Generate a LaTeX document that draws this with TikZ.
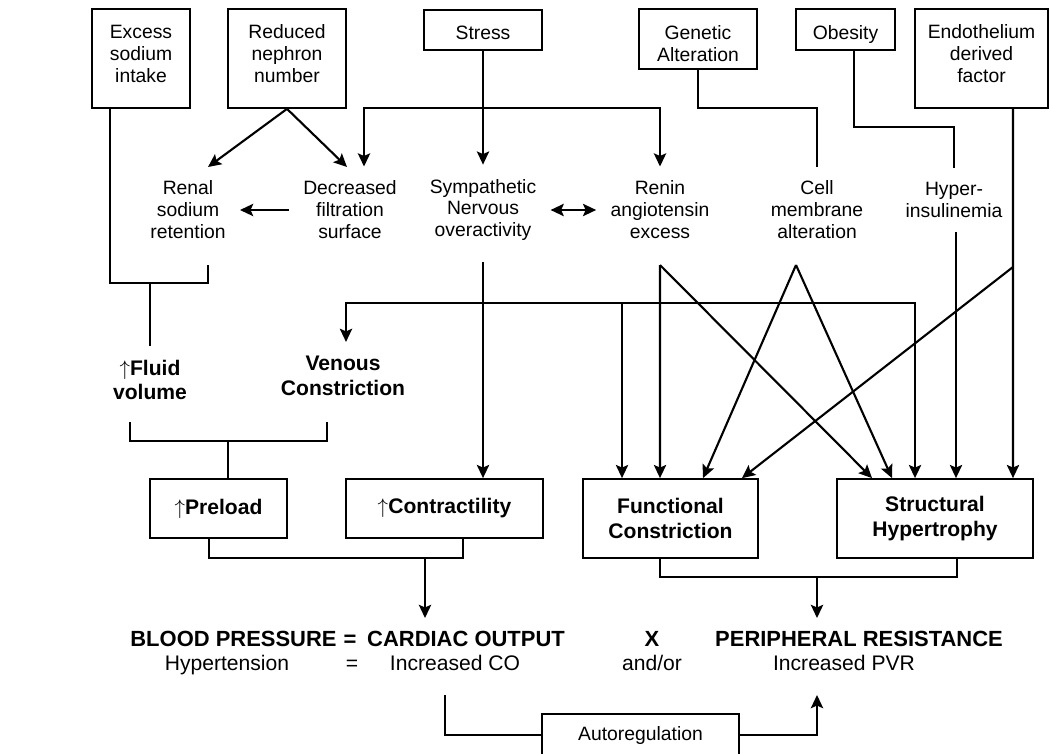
\documentclass[tikz,border=0pt]{standalone}
\usepackage{fontspec}
\setmainfont{Liberation Sans}
\usetikzlibrary{arrows.meta,positioning}

\tikzset{
  box/.style={draw, line width=1pt, align=center, inner sep=0pt, font=\fontsize{11}{12.5}\selectfont},
  bbox/.style={box, font=\fontsize{12}{14}\selectfont\bfseries},
  txt/.style={align=center, inner xsep=8pt, inner ysep=8pt, font=\fontsize{11}{12.5}\selectfont},
  btxt/.style={txt, font=\fontsize{12}{14}\selectfont\bfseries},
  eqn/.style={anchor=base, inner ysep=7pt, font=\fontsize{12.5}{14}\selectfont\bfseries},
  eqr/.style={anchor=base, font=\fontsize{12}{14}\selectfont},
  link/.style={line width=1.2pt},
  bracket/.style={line width=.9pt},
}

\begin{document}
\begin{tikzpicture}[x=0.02cm, y=-0.02cm, >={Stealth[length=7.5pt,width=7pt,inset=1.5pt]}]
\clip (0,0) rectangle (1050,753);

% causes
\node[box, minimum width=1.96cm, minimum height=1.98cm, text depth=5.5pt] (excess) at (141,58.5) {Excess\\sodium\\intake};
\node[box, minimum width=2.36cm, minimum height=1.98cm, text depth=5.5pt] (nephron) at (287,58.5) {Reduced\\nephron\\number};
\node[box, minimum width=2.36cm, minimum height=.8cm, text height=11.3pt] (stress) at (483,30) {Stress};
\node[box, minimum width=2.36cm, minimum height=1.2cm, text height=25.5pt] (genetic) at (698,39) {Genetic\\Alteration};
\node[box, minimum width=1.98cm, minimum height=.82cm, text height=13.6pt] (obesity) at (845.5,29.5) {Obesity};
\node[box, minimum width=2.66cm, minimum height=1.98cm, text depth=5.5pt] (endo) at (981.5,58.5) {Endothelium\\derived\\factor};

% mechanisms
\node[txt] (renal) at (188,210) {Renal\\sodium\\retention};
\node[txt] (decf) at (350,210) {Decreased\\filtration\\surface};
\node[txt] (symp) at (483,210) {Sympathetic\\Nervous\\overactivity};
\node[txt] (renin) at (660,210) {Renin\\angiotensin\\excess};
\node[txt] (cell) at (817,210) {Cell\\membrane\\alteration};
\node[txt] (hyper) at (954,200) {Hyper-\\insulinemia};

\node[btxt] (fluid) at (150,380) {$\uparrow$Fluid\\volume};
\node[btxt] (venous) at (343,376) {Venous\\Constriction};

% effects
\node[bbox, minimum width=2.74cm, minimum height=1.18cm] (preload) at (218.5,508.5) {$\uparrow$Preload};
\node[bbox, minimum width=3.94cm, minimum height=1.18cm] (contr) at (444.5,508.5) {$\uparrow$Contractility};
\node[bbox, minimum width=3.5cm, minimum height=1.58cm] (func) at (670.5,518.5) {Functional\\Constriction};
\node[bbox, minimum width=3.92cm, minimum height=1.58cm] (struc) at (935,518.5) {Structural\\Hypertrophy};

% equation
\node[eqn] (bp) at (233.5,646) {BLOOD PRESSURE};
\node[eqn] (eq1) at (350,646) {=};
\node[eqn] (co) at (466,646) {CARDIAC OUTPUT};
\node[eqn] (times) at (652,646) {X};
\node[eqn] (pr) at (859,646) {PERIPHERAL RESISTANCE};
\node[eqr] (htn) at (227,670) {Hypertension};
\node[eqr] (eq2) at (352,670) {=};
\node[eqr] (incco) at (455,670) {Increased CO};
\node[eqr] (andor) at (652,670) {and/or};
\node[eqr] (incpvr) at (844,670) {Increased PVR};
\node[box, minimum width=3.94cm, minimum height=.84cm] (auto) at (640.5,735) {Autoregulation};

% junctions
\coordinate (exOut) at (110,108);
\coordinate (fluidJ) at (150,283);
\coordinate (renalB) at (208,265);
\coordinate (renalIn) at (208,167);
\coordinate (decfIn) at (347,167);
\coordinate (barL) at (364,108);
\coordinate (barR) at (660,108);
\coordinate (genJ) at (817,108);
\coordinate (obJ) at (954,127);
\coordinate (sympB) at (483,262);
\coordinate (reninB) at (660,265);
\coordinate (cellB) at (796,265);
\coordinate (endoB) at (1013,267);
\coordinate (vL) at (346,303);
\coordinate (fvL) at (130,422);
\coordinate (fvR) at (327,422);
\coordinate (fvM) at (228,441);
\coordinate (pcM) at (425,558);
\coordinate (fsM) at (817,577);
\coordinate (arL) at (445,695);
\coordinate (arR) at (817,695);

% inputs on top of the two boxes
\foreach \n/\dx in {1/-.97, 2/-.21, 3/.65, 4/1.43}
  \coordinate (f\n) at ([xshift=\dx cm]func.north);
\foreach \n/\dx in {1/-1.26, 2/-.86, 3/-.4, 4/.42, 5/1.56}
  \coordinate (s\n) at ([xshift=\dx cm]struc.north);

% upper part
\draw[link,->] (stress) -- (symp);
\draw[link,->] (nephron.south) -- (renalIn);
\draw[link,->] (nephron.south) -- (decfIn);
\draw[link,->] (decf) -- (renal);
\draw[link,<->] (symp) -- (renin);
\draw[link,<->] (barL |- decf.north) -- (barL) -- (barR) -- (renin.north);
\draw[link] (genetic.south) |- (genJ) -- (cell.north);
\draw[link] ([xshift=.17cm]obesity.south) |- (obJ) -- (hyper.north);
\draw[bracket] (exOut) |- (fluidJ) -| (renalB);
\draw[bracket] (fluidJ) -- (fluidJ |- fluid.north);

% to the boxes
\draw[link,->] (sympB) -- (sympB |- contr.north);
\draw[link,<->] (vL |- venous.north) -- (vL) -- (s3 |- vL) -- (s3);
\draw[link,->] (f1 |- vL) -- (f1);
\draw[link,->] (reninB) -- (f2);
\draw[link,->] (reninB) -- (s1);
\draw[link,->] (cellB) -- (f3);
\draw[link,->] (cellB) -- (s2);
\draw[link,->] (s4 |- hyper.south) -- (s4);
\draw[link,->] ([xshift=.63cm]endo.south) -- (s5);
\draw[link,->] (endoB) -- (f4);

% brackets
\draw[bracket] (fvL) |- (fvM) -| (fvR);
\draw[bracket] (fvM) -- (fvM |- preload.north);
\draw[bracket] ([xshift=-.19cm]preload.south) |- (pcM) -| ([xshift=.37cm]contr.south);
\draw[link,->] (pcM) -- (pcM |- co.north);
\draw[bracket] ([xshift=-.21cm]func.south) |- (fsM) -| ([xshift=.44cm]struc.south);
\draw[link,->] (fsM) -- (fsM |- pr.north);

% autoregulation
\draw[link] (arL) |- (auto.west);
\draw[link,->] (auto.east) -| (arR);

\end{tikzpicture}
\end{document}
